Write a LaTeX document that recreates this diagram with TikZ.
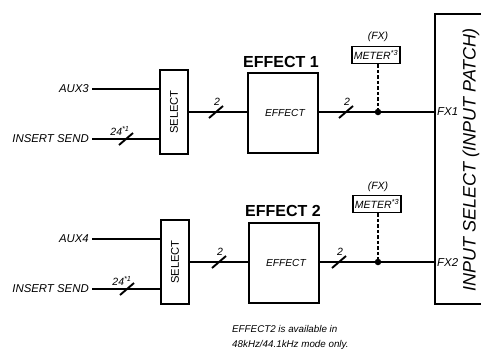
\documentclass[tikz,border=0pt]{standalone}
\usepackage{fontspec}
\setmainfont{Liberation Sans}
\usetikzlibrary{calc}
\begin{document}
\begin{tikzpicture}[x=1pt,y=-1pt,
  wire/.style={line width=1.4pt},
  dashwire/.style={line width=1.6pt,dash pattern=on 3.5pt off 2pt},
  box/.style={draw,line width=1.8pt,inner sep=0pt},
  lbl/.style={font=\fontsize{11.4}{13}\selectfont\itshape,inner sep=0pt},
  selbox/.style={box,minimum width=28pt,minimum height=84pt,font=\fontsize{11.2}{13}\selectfont},
  effbox/.style={box,minimum width=70pt,minimum height=80pt,font=\fontsize{10.2}{12}\selectfont\itshape},
  title/.style={font=\fontsize{16}{18}\selectfont\bfseries,inner sep=0pt},
  meterbox/.style={box,line width=1.6pt,minimum width=48pt,minimum height=17pt,font=\fontsize{10.5}{12}\selectfont\itshape},
  fxlbl/.style={font=\fontsize{10.5}{12}\selectfont\itshape,inner sep=0pt},
  buslbl/.style={font=\fontsize{10.5}{12}\selectfont\itshape,inner sep=0pt},
  slashmark/.style={line width=1.9pt},
  dot/.style={circle,fill,inner sep=0pt,minimum size=6.5pt}
]
\useasboundingbox (0,0) rectangle (481,349);
\clip (0,0) rectangle (481,349);

% ---------- input patch ----------
\node[box,anchor=north west,minimum width=60pt,minimum height=290pt] (patch) at (434,13) {};
\node[rotate=90,font=\fontsize{18}{20}\selectfont\itshape,inner sep=0pt] (patchlbl) at (471,160) {INPUT SELECT (INPUT PATCH)};
\node[lbl,anchor=west] (fx1lbl) at (437,112) {FX1};
\node[lbl,anchor=west] (fx2lbl) at (437,263) {FX2};

% ---------- row 1 ----------
\node[lbl,anchor=east] (aux3) at (89,89) {AUX3};
\node[lbl,anchor=east] (ins1) at (89,139) {INSERT SEND};
\node[selbox] (sel1) at (174,112) {\rotatebox{90}{SELECT}};
\node[effbox] (eff1) at (283,113) {\hspace*{4pt}EFFECT};
\node[title] (t1) at (281,62) {EFFECT 1};
\node[meterbox] (met1) at (376,55) {METER\textsuperscript{*3}};
\node[fxlbl] (fxa) at (378,37) {(FX)};
\node[dot] (d1) at (378,112) {};

\draw[wire] ([xshift=3pt]aux3.east) -- (aux3.east -| sel1.west);
\draw[wire] ([xshift=3pt]ins1.east) -- (ins1.east -| sel1.west);
\draw[wire] (sel1.east |- 0,112) -- (eff1.west |- 0,112);
\draw[wire] (eff1.east |- d1) -- (d1 -| patch.west);
\draw[dashwire] (d1 |- met1.south) -- (d1);

\draw[slashmark] (126,139) ++(-7,6) -- ++(14,-12);
\node[buslbl] (b11) at (120,131) {24\textsuperscript{*1}};
\draw[slashmark] (216,112) ++(-7,6) -- ++(14,-12);
\node[buslbl] (b12) at (217,102) {2};
\draw[slashmark] (346,112) ++(-7,6) -- ++(14,-12);
\node[buslbl] (b13) at (347,102) {2};

% ---------- row 2 ----------
\node[lbl,anchor=east] (aux4) at (89,239) {AUX4};
\node[lbl,anchor=east] (ins2) at (89,289) {INSERT SEND};
\node[selbox] (sel2) at (175,262) {\rotatebox{90}{SELECT}};
\node[effbox] (eff2) at (284,263) {\hspace*{4pt}EFFECT};
\node[title] (t2) at (283,211) {EFFECT 2};
\node[meterbox] (met2) at (377,204) {METER\textsuperscript{*3}};
\node[fxlbl] (fxb) at (378,187) {(FX)};
\node[dot] (d2) at (378,262) {};

\draw[wire] ([xshift=3pt]aux4.east) -- (aux4.east -| sel2.west);
\draw[wire] ([xshift=3pt]ins2.east) -- (ins2.east -| sel2.west);
\draw[wire] (sel2.east |- 0,262) -- (eff2.west |- 0,262);
\draw[wire] (eff2.east |- d2) -- (d2 -| patch.west);
\draw[dashwire] (d2 |- met2.south) -- (d2);

\draw[slashmark] (127,289) ++(-7,6) -- ++(14,-12);
\node[buslbl] (b21) at (122,281) {24\textsuperscript{*1}};
\draw[slashmark] (219,262) ++(-7,6) -- ++(14,-12);
\node[buslbl] (b22) at (220,252) {2};
\draw[slashmark] (339,262) ++(-7,6) -- ++(14,-12);
\node[buslbl] (b23) at (340,252) {2};

% ---------- note ----------
\node[anchor=north west,align=left,inner sep=0pt,font=\fontsize{9.8}{15}\selectfont\itshape] (note) at (232,325) {EFFECT2 is available in\\48kHz/44.1kHz mode only.};
\end{tikzpicture}
\end{document}
